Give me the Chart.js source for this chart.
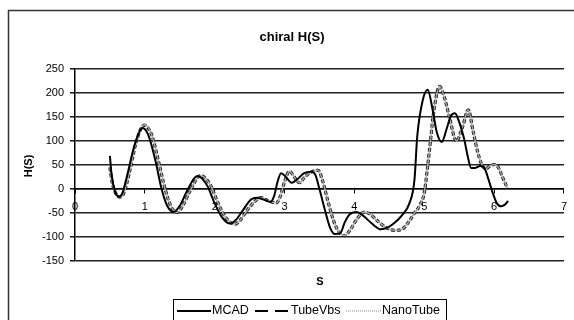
<!DOCTYPE html>
<html>
<head>
<meta charset="utf-8">
<script src="https://cdn.jsdelivr.net/npm/chart.js@4/dist/chart.umd.min.js"></script>
<style>
html,body{margin:0;padding:0;background:#fff;}
#wrap{width:574px;height:320px;position:relative;}
</style>
</head>
<body>
<div id="wrap"><canvas id="c" width="574" height="320"></canvas></div>
<script>
const chartTitle = 'chiral H(S)';
const xTitle = 'S';
const yTitle = 'H(S)';
const seriesNames = ['MCAD', 'TubeVbs', 'NanoTube'];
const yTicks = [-150, -100, -50, 0, 50, 100, 150, 200, 250];
const xTicks = [0, 1, 2, 3, 4, 5, 6, 7];

const mcadS = [0.50,0.52,0.55,0.58,0.63,0.68,0.75,0.85,0.97,1.05,1.15,1.24,1.32,1.41,1.50,1.60,1.75,1.82,1.90,2.00,2.10,2.22,2.30,2.40,2.52,2.60,2.70,2.80,2.85,2.90,2.95,3.02,3.10,3.18,3.28,3.38,3.44,3.50,3.58,3.65,3.72,3.80,3.86,3.93,4.03,4.12,4.25,4.38,4.48,4.58,4.68,4.79,4.86,4.90,4.98,5.05,5.12,5.18,5.25,5.32,5.38,5.44,5.50,5.57,5.62,5.67,5.73,5.80,5.86,5.92,5.98,6.04,6.10,6.16,6.20];
const mcadH = [69,35,8,-8,-16,-8,30,90,127,112,60,0,-35,-48,-35,-5,27,22,5,-30,-58,-72,-65,-45,-22,-18,-22,-27,-15,15,33,25,13,20,33,36,30,0,-45,-80,-94,-92,-70,-53,-48,-55,-72,-84,-80,-70,-55,-29,19,110,186,207,165,118,98,125,152,158,140,105,70,44,44,48,44,20,-8,-30,-36,-32,-25];

const tubeS = [0.50,0.53,0.57,0.64,0.70,0.78,0.88,0.99,1.04,1.10,1.20,1.29,1.37,1.46,1.55,1.65,1.80,1.87,1.95,2.05,2.16,2.29,2.36,2.46,2.58,2.66,2.76,2.88,2.94,3.00,3.07,3.14,3.21,3.29,3.38,3.48,3.54,3.62,3.70,3.78,3.86,3.94,4.04,4.14,4.22,4.32,4.45,4.58,4.68,4.78,4.86,4.94,5.00,5.07,5.14,5.22,5.29,5.36,5.46,5.55,5.63,5.70,5.76,5.82,5.88,5.94,6.00,6.06,6.12,6.19];
const tubeH = [45,15,-5,-17,-8,35,100,133,128,112,55,0,-35,-49,-33,-3,28,22,5,-30,-60,-73,-66,-45,-25,-18,-24,-29,-15,15,37,25,13,25,35,39,20,-25,-65,-90,-97,-85,-62,-48,-52,-65,-80,-86,-84,-68,-50,-33,-8,75,165,214,190,150,100,130,165,120,80,52,42,48,51,45,25,2];

const nanoS = [0.50,0.53,0.57,0.64,0.70,0.78,0.88,0.99,1.04,1.10,1.20,1.29,1.37,1.46,1.55,1.65,1.80,1.87,1.95,2.05,2.16,2.29,2.36,2.46,2.58,2.66,2.76,2.88,2.94,3.00,3.07,3.14,3.21,3.29,3.38,3.48,3.54,3.62,3.70,3.78,3.86,3.94,4.04,4.14,4.22,4.32,4.45,4.58,4.68,4.78,4.86,4.94,5.00,5.07,5.14,5.22,5.29,5.36,5.46,5.55,5.63,5.70,5.76,5.82,5.88,5.94,6.00,6.06,6.12,6.19];
const nanoH = [45,15,-5,-17,-8,35,100,134,130,112,55,0,-35,-49,-33,-3,28,22,5,-30,-60,-73,-66,-45,-25,-18,-24,-29,-15,15,37,25,13,25,35,39,20,-25,-65,-90,-97,-85,-62,-48,-52,-65,-80,-86,-84,-68,-50,-33,-8,75,165,214,190,150,100,130,165,120,80,52,42,48,51,45,25,2];

function pts(xs, ys){ return xs.map((x,i)=>({x:x, y:ys[i]})); }

const FONT = "'Liberation Sans', Arial, sans-serif";

const legendStyles = [
  {color:'#000', width:2, dash:[]},
  {color:'#000', width:2, dash:[13,7]},
  {color:'#888', width:1, dash:[1,1]}
];

const decor = {
  id:'decor',
  beforeDraw(chart){
    const ctx = chart.ctx;
    ctx.save();
    ctx.fillStyle = '#fff';
    ctx.fillRect(0,0,chart.width,chart.height);
    ctx.restore();
  },
  afterDraw(chart){
    const ctx = chart.ctx;
    ctx.save();
    // outer frame
    ctx.strokeStyle = '#333';
    ctx.lineWidth = 1.5;
    ctx.strokeRect(8.5, 10.5, 600, 340);
    // title
    ctx.fillStyle = '#000';
    ctx.textAlign = 'center';
    ctx.textBaseline = 'middle';
    ctx.font = 'bold 13px ' + FONT;
    ctx.fillText(chartTitle, 292, 37);
    ctx.font = 'bold 11px ' + FONT;
    ctx.fillText(xTitle, 320, 282);
    ctx.save();
    ctx.translate(29, 166);
    ctx.rotate(-Math.PI/2);
    ctx.fillText(yTitle, 0, 0);
    ctx.restore();
    // legend
    ctx.strokeStyle = '#000';
    ctx.lineWidth = 1;
    ctx.strokeRect(173.5, 299.5, 273, 40);
    const ly = 311;
    const items = [
      {x0:177, x1:211, tx:212},
      {x0:255, x1:288, tx:291},
      {x0:346, x1:381, tx:382}
    ];
    ctx.font = '12.5px ' + FONT;
    ctx.textAlign = 'left';
    items.forEach((it,i)=>{
      const st = legendStyles[i];
      ctx.beginPath();
      ctx.setLineDash(st.dash);
      ctx.strokeStyle = st.color;
      ctx.lineWidth = st.width;
      ctx.moveTo(it.x0, ly);
      ctx.lineTo(it.x1, ly);
      ctx.stroke();
      ctx.setLineDash([]);
      ctx.fillStyle = '#000';
      ctx.fillText(seriesNames[i], it.tx, ly);
    });
    ctx.restore();
  }
};

new Chart(document.getElementById('c'), {
  type:'line',
  data:{
    datasets:[
      {label:seriesNames[0], data:pts(mcadS,mcadH), borderColor:'#000', borderWidth:2, pointRadius:0, cubicInterpolationMode:'monotone', order:0},
      {label:seriesNames[1], data:pts(tubeS,tubeH), borderColor:'#222', borderWidth:3.2, borderDash:[4,2], pointRadius:0, cubicInterpolationMode:'monotone', order:2},
      {label:seriesNames[2], data:pts(nanoS,nanoH), borderColor:'#aaa', borderWidth:1.4, pointRadius:0, cubicInterpolationMode:'monotone', order:1}
    ]
  },
  options:{
    responsive:false,
    animation:false,
    layout:{padding:{top:69, right:9, bottom:59, left:0}},
    plugins:{legend:{display:false}, title:{display:false}, tooltip:{enabled:false}},
    scales:{
      x:{
        type:'linear',
        position:{y:0},
        min:0, max:7,
        afterBuildTicks(s){ s.ticks = xTicks.map(v=>({value:v})); },
        ticks:{color:'#000', font:{family:FONT, size:11}, padding:7, maxRotation:0, autoSkip:false},
        grid:{drawOnChartArea:false, drawTicks:true, tickLength:4, color:'#000', lineWidth:1},
        border:{display:true, color:'#000', width:1.5}
      },
      y:{
        type:'linear',
        min:-150, max:250,
        afterBuildTicks(s){ s.ticks = yTicks.map(v=>({value:v})); },
        afterFit(s){ s.width = 75; },
        ticks:{color:'#000', font:{family:FONT, size:11}, padding:6},
        grid:{color:'#222', lineWidth:1.6, tickLength:5, drawTicks:true},
        border:{display:true, color:'#000', width:1.5}
      }
    }
  },
  plugins:[decor]
});
</script>
</body>
</html>
